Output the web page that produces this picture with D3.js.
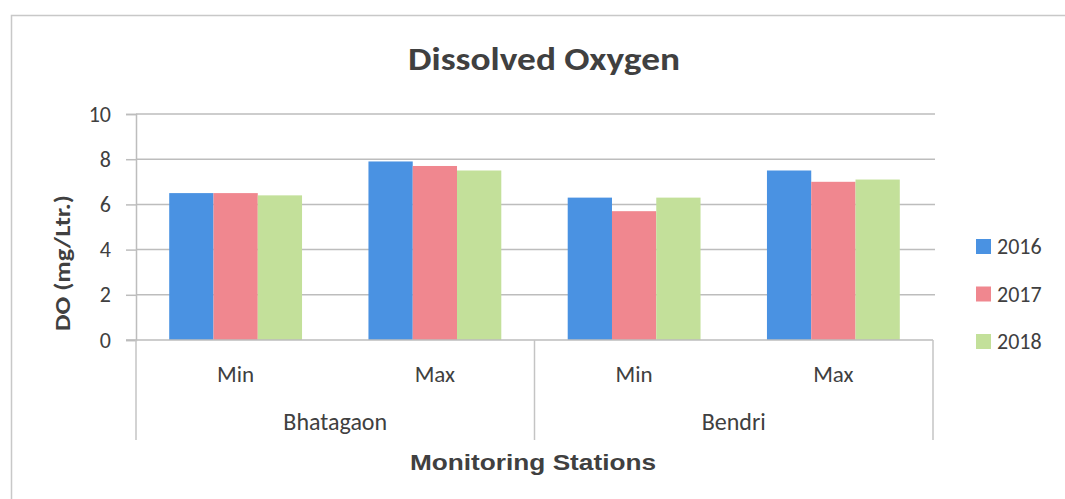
<!DOCTYPE html>
<html>
<head>
<meta charset="utf-8">
<script src="https://cdn.jsdelivr.net/npm/d3@7"></script>
<style>
  html, body { margin: 0; padding: 0; background: #fff; }
  svg { display: block; }
  text { fill: #404040; }
</style>
</head>
<body>
<svg id="chart" width="1065" height="499"></svg>
<script>
// Dissolved oxygen (mg/L) at two monitoring stations, min and max per year
const stations = ["Bhatagaon", "Bendri"];
const measures = ["Min", "Max"];
const years = ["2016", "2017", "2018"];
const values2016 = [6.5, 7.9, 6.3, 7.5];
const values2017 = [6.5, 7.7, 5.7, 7.0];
const values2018 = [6.4, 7.5, 6.3, 7.1];
const yTicks = [0, 2, 4, 6, 8, 10];
const colors = ["#4a92e2", "#f0878f", "#c3e09a"];

const series = [values2016, values2017, values2018];
const categories = [];
stations.forEach(s => measures.forEach(m => categories.push({ station: s, measure: m, key: s + "|" + m })));

const svg = d3.select("#chart");
const W = 1065, H = 499;
const plot = { left: 136, right: 933, top: 114, bottom: 340 };
const fontMain = "Calibri, Carlito, Lato, 'Open Sans', sans-serif";

// outer chart frame
svg.append("path")
  .attr("d", `M11.5,${H} L11.5,15.5 L${W},15.5`)
  .attr("fill", "none").attr("stroke", "#c8c8c8").attr("stroke-width", 1.5);

const x0 = d3.scaleBand().domain(categories.map(d => d.key))
  .range([plot.left, plot.right]).paddingInner(0).paddingOuter(0);
const x1 = d3.scaleBand().domain(years)
  .range([0, x0.bandwidth()]).paddingInner(0).paddingOuter(0.75);
const y = d3.scaleLinear().domain([0, 10]).range([plot.bottom, plot.top]);

// gridlines
svg.append("g").selectAll("line").data(yTicks.filter(t => t > 0)).join("line")
  .attr("x1", plot.left).attr("x2", plot.right + 2)
  .attr("y1", d => y(d)).attr("y2", d => y(d))
  .attr("stroke", "#bdbdbd").attr("stroke-width", 1.5);

// y axis
const yAxis = d3.axisLeft(y).tickValues(yTicks).tickSize(10).tickPadding(15);
const gy = svg.append("g").attr("transform", `translate(${plot.left},0)`).call(yAxis);
gy.select(".domain").attr("stroke", "#bdbdbd").attr("stroke-width", 1.5);
gy.selectAll(".tick line").attr("stroke", "#bdbdbd").attr("stroke-width", 1.5);
gy.selectAll(".tick text")
  .style("font-family", fontMain).style("font-size", "22px").attr("fill", "#404040");

// bars
const barG = svg.append("g");
years.forEach((yr, si) => {
  barG.selectAll(null).data(categories).join("rect")
    .attr("x", d => x0(d.key) + x1(yr))
    .attr("width", x1.bandwidth())
    .attr("y", (d, i) => y(series[si][i]))
    .attr("height", (d, i) => y(0) - y(series[si][i]))
    .attr("fill", colors[si]);
});

// category axis baseline
svg.append("line")
  .attr("x1", plot.left - 10).attr("x2", plot.right)
  .attr("y1", plot.bottom).attr("y2", plot.bottom)
  .attr("stroke", "#bdbdbd").attr("stroke-width", 1.5);

// station separators
const stationScale = d3.scaleBand().domain(stations).range([plot.left, plot.right]);
const seps = [plot.left, ...stations.map(s => stationScale(s) + stationScale.bandwidth())];
svg.append("g").selectAll("line").data(seps).join("line")
  .attr("x1", d => d).attr("x2", d => d)
  .attr("y1", plot.bottom).attr("y2", 440)
  .attr("stroke", "#c4c4c4").attr("stroke-width", 1.5);

// measure labels
svg.append("g").selectAll("text").data(categories).join("text")
  .attr("x", d => x0(d.key) + x0.bandwidth() / 2)
  .attr("y", 382)
  .attr("text-anchor", "middle")
  .style("font-family", fontMain).style("font-size", "23px")
  .text(d => d.measure);

// station labels
svg.append("g").selectAll("text").data(stations).join("text")
  .attr("x", d => stationScale(d) + stationScale.bandwidth() / 2)
  .attr("y", 430)
  .attr("text-anchor", "middle")
  .style("font-family", fontMain).style("font-size", "24px")
  .text(d => d);

// title
svg.append("text")
  .attr("x", 544).attr("y", 70)
  .attr("text-anchor", "middle")
  .attr("textLength", 272).attr("lengthAdjust", "spacingAndGlyphs")
  .style("font-family", fontMain).style("font-size", "32px").style("font-weight", "bold")
  .text("Dissolved Oxygen");

// axis titles
svg.append("text")
  .attr("x", 533).attr("y", 470)
  .attr("text-anchor", "middle")
  .attr("textLength", 246).attr("lengthAdjust", "spacingAndGlyphs")
  .style("font-family", "'Liberation Sans Narrow', 'Liberation Sans', Arial, sans-serif")
  .style("font-size", "22px").style("font-weight", "bold")
  .text("Monitoring Stations");

svg.append("text")
  .attr("transform", "translate(70,263) rotate(-90)")
  .attr("text-anchor", "middle")
  .attr("textLength", 136).attr("lengthAdjust", "spacingAndGlyphs")
  .style("font-family", fontMain).style("font-size", "22px").style("font-weight", "bold")
  .text("DO (mg/Ltr.)");

// legend
const legend = svg.append("g").selectAll("g").data(years).join("g")
  .attr("transform", (d, i) => `translate(976,${246 + i * 47.5})`);
legend.append("rect")
  .attr("x", 0).attr("y", -7).attr("width", 15).attr("height", 15)
  .attr("fill", (d, i) => colors[i]);
legend.append("text")
  .attr("x", 21).attr("y", 8)
  .style("font-family", fontMain).style("font-size", "22px")
  .text(d => d);
</script>
</body>
</html>
